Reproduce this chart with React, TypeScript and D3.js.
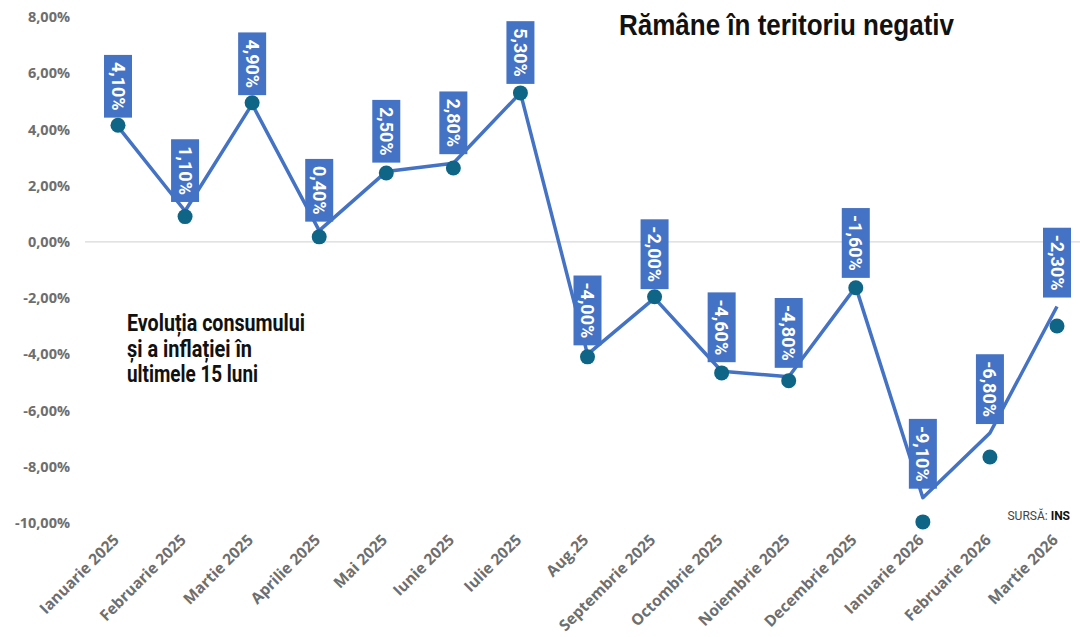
import React from "react";
import * as d3 from "d3";

const months = [
  "Ianuarie 2025", "Februarie 2025", "Martie 2025", "Aprilie 2025", "Mai 2025",
  "Iunie 2025", "Iulie 2025", "Aug.25", "Septembrie 2025", "Octombrie 2025",
  "Noiembrie 2025", "Decembrie 2025", "Ianuarie 2026", "Februarie 2026", "Martie 2026",
];

// line values (the labelled series)
const lineValues = [4.1, 1.1, 4.9, 0.4, 2.5, 2.8, 5.3, -4.0, -2.0, -4.6, -4.8, -1.6, -9.1, -6.8, -2.3];

// dot values (second series, drawn as markers only)
const dotValues = [4.15, 0.9, 4.95, 0.18, 2.45, 2.63, 5.3, -4.09, -1.95, -4.66, -4.94, -1.63, -9.96, -7.65, -2.99];

const yTicks = [8, 6, 4, 2, 0, -2, -4, -6, -8, -10];

const subtitleLines = ["Evoluția consumului", "și a inflației în", "ultimele 15 luni"];

const fmt = (v: number) => d3.format(".2f")(v).replace(".", ",").replace("−", "-") + "%";

const width = 1080;
const height = 637;

const BLUE = "#4472c4";
const DOT = "#0f6585";
const GRAY = "#6e6e6e";

let measureCtx: CanvasRenderingContext2D | null = null;
const measure = (s: string, font: string) => {
  if (!measureCtx) measureCtx = document.createElement("canvas").getContext("2d");
  if (!measureCtx) return s.length * 9;
  measureCtx.font = font;
  return measureCtx.measureText(s).width;
};

const App: React.FC = () => {
  const x = d3.scalePoint<string>().domain(months).range([118, 1057]);
  const y = d3.scaleLinear().domain([-10, 8]).range([523, 17]);

  const line = d3
    .line<number>()
    .x((_, i) => x(months[i])!)
    .y((d) => y(d));

  const labelFont = "bold 18px Roboto";

  return (
    <svg width={width} height={height} style={{ position: "absolute", left: 0, top: 0, background: "#fff" }}>
      <rect width={width} height={height} fill="#fff" />

      {/* zero line */}
      <line x1={85} x2={width} y1={y(0)} y2={y(0)} stroke="#d9d9d9" strokeWidth={1.2} />

      {/* y axis labels */}
      {yTicks.map((t) => (
        <text
          key={t}
          x={70}
          y={y(t)}
          dy="0.35em"
          textAnchor="end"
          fontFamily="'Open Sans', sans-serif"
          fontWeight={700}
          fontSize={14.5}
          fill={GRAY}
        >
          {fmt(t)}
        </text>
      ))}

      {/* x axis labels */}
      {months.map((m) => (
        <text
          key={m}
          transform={`translate(${x(m)! + 2}, 541) rotate(-45)`}
          textAnchor="end"
          fontFamily="'Open Sans', sans-serif"
          fontWeight={700}
          fontSize={15.5}
          fill={GRAY}
        >
          {m}
        </text>
      ))}

      {/* line */}
      <path d={line(lineValues) ?? ""} fill="none" stroke={BLUE} strokeWidth={3.5} strokeLinejoin="round" />

      {/* dots */}
      {dotValues.map((v, i) => (
        <circle key={i} cx={x(months[i])} cy={y(v)} r={7.5} fill={DOT} />
      ))}

      {/* value labels */}
      {lineValues.map((v, i) => {
        const label = fmt(v);
        const tw = measure(label, labelFont);
        const boxH = tw + 14;
        const cx = x(months[i])!;
        const bottom = y(v) - 9;
        return (
          <g key={i}>
            <rect x={cx - 14} y={bottom - boxH} width={28} height={boxH} fill={BLUE} />
            <text
              transform={`translate(${cx}, ${bottom - boxH / 2}) rotate(90)`}
              textAnchor="middle"
              dy="0.36em"
              fontFamily="Roboto, sans-serif"
              fontWeight={700}
              fontSize={18}
              fill="#fff"
            >
              {label}
            </text>
          </g>
        );
      })}

      {/* title */}
      <text
        x={619}
        y={35}
        textLength={335}
        lengthAdjust="spacingAndGlyphs"
        fontFamily="'Liberation Sans', Arial, sans-serif"
        fontWeight={700}
        fontSize={30}
        fill="#111"
      >
        Rămâne în teritoriu negativ
      </text>

      {/* subtitle */}
      {subtitleLines.map((s, i) => (
        <text
          key={s}
          x={127}
          y={331 + i * 25.5}
          textLength={[178, 125, 131][i]}
          lengthAdjust="spacingAndGlyphs"
          fontFamily="Roboto, sans-serif"
          fontWeight={700}
          fontSize={24}
          fill="#111"
        >
          {s}
        </text>
      ))}

      {/* source */}
      <text x={1070} y={520} textAnchor="end" fontFamily="Roboto, sans-serif" fontSize={12} fill="#444">
        SURSĂ: <tspan fontWeight={700} fill="#111">INS</tspan>
      </text>
    </svg>
  );
};

export default App;
